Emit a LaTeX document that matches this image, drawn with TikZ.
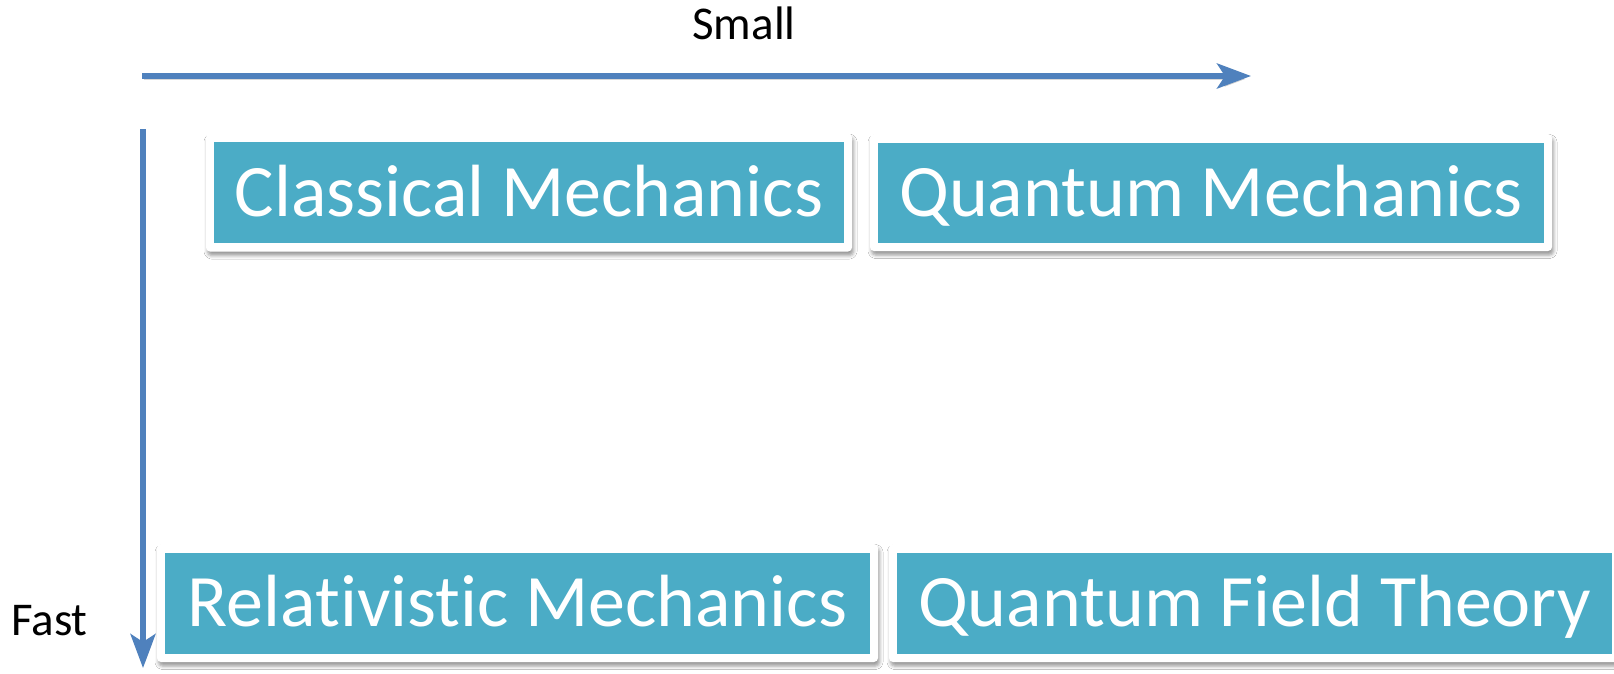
\documentclass[tikz,border=0pt]{standalone}
\usepackage{fontspec}
\setmainfont{Carlito}[Ligatures={NoCommon,NoContextual}]
\usetikzlibrary{arrows.meta,shadows.blur}
\definecolor{boxteal}{HTML}{4BACC6}
\definecolor{axisblue}{HTML}{4F81BD}
\begin{document}
\begin{tikzpicture}[x=1pt,y=-1pt,
  box/.style={rectangle, fill=white, rounded corners=4pt, text=white,
    font=\fontsize{74}{80}\selectfont, inner sep=0pt,
    text height=47.5pt, text depth=0pt,
    blur shadow={shadow xshift=1.5pt, shadow yshift=-4pt, shadow blur radius=3.5pt, shadow opacity=40},
    path picture={\fill[boxteal, sharp corners]
      ([shift={(8pt,-8.5pt)}]path picture bounding box.north west) rectangle
      ([shift={(-8pt,8.5pt)}]path picture bounding box.south east);}},
  axis/.style={draw=axisblue, line width=5.5pt,
    -{Stealth[length=34pt, width=25pt, inset=8pt]},
    preaction={draw=black!30, opacity=0.5, transform canvas={xshift=1.5pt, yshift=-3pt}}},
  lbl/.style={text=black, font=\fontsize{47}{50}\selectfont, inner sep=0pt}
]
\useasboundingbox (0,0) rectangle (1614,673);
\clip (0,0) rectangle (1614,673);
\fill[white] (0,0) rectangle (1614,673);

\coordinate (h0) at (142,76);
\coordinate (h1) at (1251,76);
\coordinate (v0) at (143,129);
\coordinate (v1) at (143,668);

\draw[axis] (h0) -- (h1);
\draw[axis] (v0) -- (v1);

\node[lbl, anchor=base] (small) at (744,39) {Small};
\node[lbl, anchor=base] (fast) at (49.5,635) {Fast};

\node[box, minimum width=646pt, minimum height=118pt] (cm) at (529,192.5) {Classical Mechanics};
\node[box, minimum width=682pt, minimum height=117pt] (qm) at (1211,192.5) {Quantum Mechanics};
\node[box, minimum width=721pt, minimum height=118pt] (rm) at (517.5,603) {Relativistic Mechanics};
\node[box, minimum width=731pt, minimum height=118pt] (qft) at (1254.5,603) {Quantum Field Theory};
\end{tikzpicture}
\end{document}
